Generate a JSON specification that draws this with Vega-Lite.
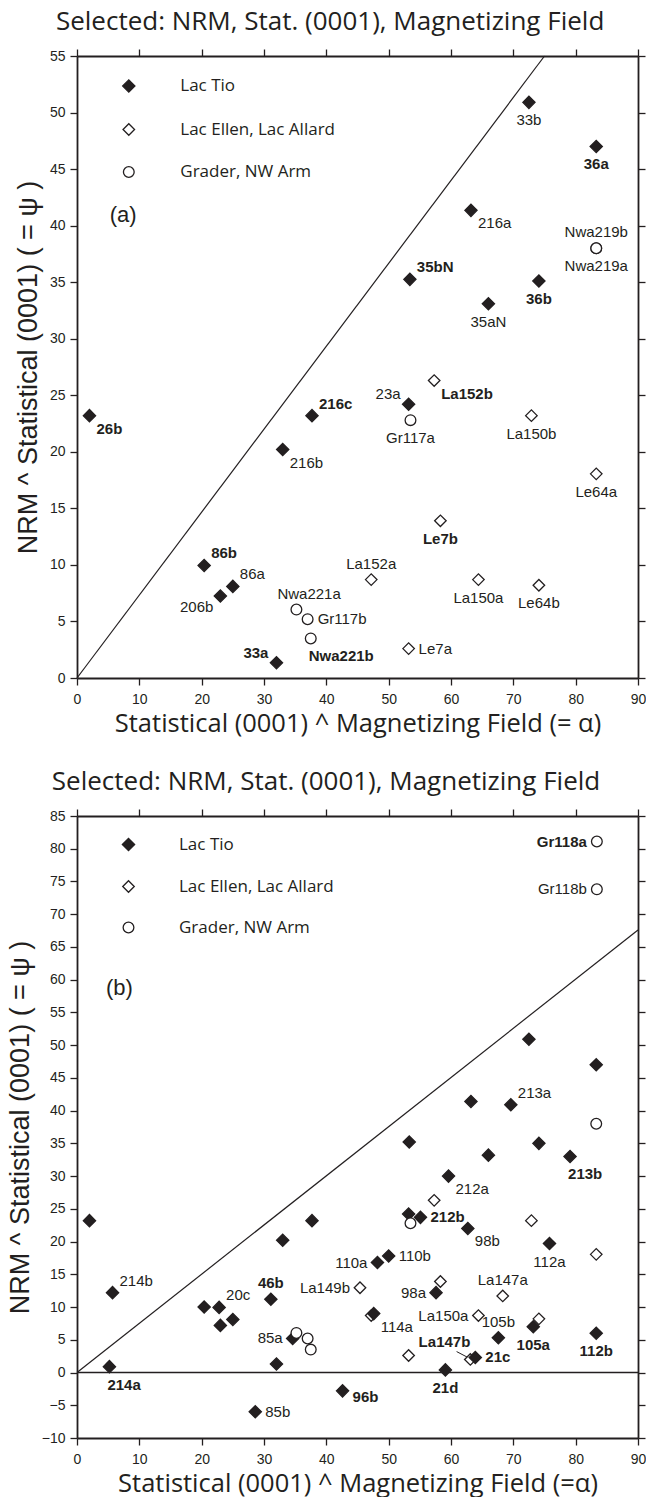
{
  "$schema": "https://vega.github.io/schema/vega-lite/v6.json",
  "padding": {"top": 9, "left": 6, "right": 0, "bottom": 0},
  "background": "white",
  "spacing": 32,
  "datasets": {
    "pa": [
      {"x": 57.3, "y": 26.3, "g": "Lac Ellen, Lac Allard", "label": "La152b", "pos": "br", "bold": true},
      {"x": 72.9, "y": 23.2, "g": "Lac Ellen, Lac Allard", "label": "La150b", "pos": "b", "bold": false},
      {"x": 83.3, "y": 18.05, "g": "Lac Ellen, Lac Allard", "label": "Le64a", "pos": "b", "bold": false},
      {"x": 58.3, "y": 13.9, "g": "Lac Ellen, Lac Allard", "label": "Le7b", "pos": "b", "bold": true},
      {"x": 47.2, "y": 8.7, "g": "Lac Ellen, Lac Allard", "label": "La152a", "pos": "a", "bold": false},
      {"x": 64.4, "y": 8.7, "g": "Lac Ellen, Lac Allard", "label": "La150a", "pos": "b", "bold": false},
      {"x": 74.1, "y": 8.2, "g": "Lac Ellen, Lac Allard", "label": "Le64b", "pos": "b", "bold": false},
      {"x": 53.2, "y": 2.6, "g": "Lac Ellen, Lac Allard", "label": "Le7a", "pos": "r", "bold": false},
      {"x": 72.5, "y": 50.9, "g": "Lac Tio", "label": "33b", "pos": "b", "bold": false},
      {"x": 83.3, "y": 47.0, "g": "Lac Tio", "label": "36a", "pos": "b", "bold": true},
      {"x": 63.2, "y": 41.35, "g": "Lac Tio", "label": "216a", "pos": "br", "bold": false},
      {"x": 53.4, "y": 35.25, "g": "Lac Tio", "label": "35bN", "pos": "ar", "bold": true},
      {"x": 74.1, "y": 35.1, "g": "Lac Tio", "label": "36b", "pos": "b", "bold": true},
      {"x": 66.0, "y": 33.1, "g": "Lac Tio", "label": "35aN", "pos": "b", "bold": false},
      {"x": 53.2, "y": 24.2, "g": "Lac Tio", "label": "23a", "pos": "al", "bold": false},
      {"x": 37.7, "y": 23.2, "g": "Lac Tio", "label": "216c", "pos": "ar", "bold": true},
      {"x": 2.0, "y": 23.2, "g": "Lac Tio", "label": "26b", "pos": "br", "bold": true},
      {"x": 33.0, "y": 20.2, "g": "Lac Tio", "label": "216b", "pos": "br", "bold": false},
      {"x": 20.4, "y": 9.95, "g": "Lac Tio", "label": "86b", "pos": "ar", "bold": true},
      {"x": 25.0, "y": 8.1, "g": "Lac Tio", "label": "86a", "pos": "ar", "bold": false},
      {"x": 23.0, "y": 7.25, "g": "Lac Tio", "label": "206b", "pos": "bl", "bold": false},
      {"x": 32.0, "y": 1.35, "g": "Lac Tio", "label": "33a", "pos": "al", "bold": true},
      {"x": 53.5, "y": 22.8, "g": "Grader, NW Arm", "label": "Gr117a", "pos": "b", "bold": false},
      {"x": 83.3, "y": 38.0, "g": "Grader, NW Arm", "label": "Nwa219b", "pos": "a", "bold": false},
      {"x": 83.3, "y": 38.0, "g": "Grader, NW Arm", "label": "Nwa219a", "pos": "b", "bold": false},
      {"x": 35.2, "y": 6.05, "g": "Grader, NW Arm", "label": "Nwa221a", "pos": "aL", "bold": false},
      {"x": 37.0, "y": 5.2, "g": "Grader, NW Arm", "label": "Gr117b", "pos": "r", "bold": false},
      {"x": 37.5, "y": 3.5, "g": "Grader, NW Arm", "label": "Nwa221b", "pos": "bL", "bold": true}
    ],
    "pb": [
      {"x": 57.3, "y": 26.3, "g": "Lac Ellen, Lac Allard", "label": "", "pos": "", "bold": false},
      {"x": 72.9, "y": 23.2, "g": "Lac Ellen, Lac Allard", "label": "", "pos": "", "bold": false},
      {"x": 83.3, "y": 18.05, "g": "Lac Ellen, Lac Allard", "label": "", "pos": "", "bold": false},
      {"x": 58.3, "y": 13.9, "g": "Lac Ellen, Lac Allard", "label": "", "pos": "", "bold": false},
      {"x": 47.2, "y": 8.7, "g": "Lac Ellen, Lac Allard", "label": "", "pos": "", "bold": false},
      {"x": 64.4, "y": 8.7, "g": "Lac Ellen, Lac Allard", "label": "La150a", "pos": "l", "bold": false},
      {"x": 74.1, "y": 8.2, "g": "Lac Ellen, Lac Allard", "label": "", "pos": "", "bold": false},
      {"x": 53.2, "y": 2.6, "g": "Lac Ellen, Lac Allard", "label": "", "pos": "", "bold": false},
      {"x": 45.4, "y": 12.95, "g": "Lac Ellen, Lac Allard", "label": "La149b", "pos": "l", "bold": false},
      {"x": 68.3, "y": 11.7, "g": "Lac Ellen, Lac Allard", "label": "La147a", "pos": "a", "bold": false},
      {"x": 63.1, "y": 2.0, "g": "Lac Ellen, Lac Allard", "label": "La147b", "pos": "aE", "bold": true},
      {"x": 72.5, "y": 50.9, "g": "Lac Tio", "label": "", "pos": "", "bold": false},
      {"x": 83.3, "y": 47.0, "g": "Lac Tio", "label": "", "pos": "", "bold": false},
      {"x": 63.2, "y": 41.4, "g": "Lac Tio", "label": "", "pos": "", "bold": false},
      {"x": 69.6, "y": 40.9, "g": "Lac Tio", "label": "213a", "pos": "ar", "bold": false},
      {"x": 53.3, "y": 35.2, "g": "Lac Tio", "label": "", "pos": "", "bold": false},
      {"x": 74.1, "y": 35.0, "g": "Lac Tio", "label": "", "pos": "", "bold": false},
      {"x": 66.0, "y": 33.2, "g": "Lac Tio", "label": "", "pos": "", "bold": false},
      {"x": 79.1, "y": 33.0, "g": "Lac Tio", "label": "213b", "pos": "bL", "bold": true},
      {"x": 59.6, "y": 30.0, "g": "Lac Tio", "label": "212a", "pos": "br", "bold": false},
      {"x": 53.2, "y": 24.2, "g": "Lac Tio", "label": "", "pos": "", "bold": false},
      {"x": 55.1, "y": 23.7, "g": "Lac Tio", "label": "212b", "pos": "r", "bold": true},
      {"x": 62.7, "y": 22.0, "g": "Lac Tio", "label": "98b", "pos": "br", "bold": false},
      {"x": 75.8, "y": 19.7, "g": "Lac Tio", "label": "112a", "pos": "b", "bold": false},
      {"x": 48.2, "y": 16.8, "g": "Lac Tio", "label": "110a", "pos": "l", "bold": false},
      {"x": 50.0, "y": 17.8, "g": "Lac Tio", "label": "110b", "pos": "r", "bold": false},
      {"x": 57.6, "y": 12.2, "g": "Lac Tio", "label": "98a", "pos": "l", "bold": false},
      {"x": 47.6, "y": 9.0, "g": "Lac Tio", "label": "114a", "pos": "br", "bold": false},
      {"x": 73.2, "y": 7.0, "g": "Lac Tio", "label": "105a", "pos": "b", "bold": true},
      {"x": 67.6, "y": 5.3, "g": "Lac Tio", "label": "105b", "pos": "a", "bold": false},
      {"x": 83.3, "y": 6.0, "g": "Lac Tio", "label": "112b", "pos": "b", "bold": true},
      {"x": 63.9, "y": 2.3, "g": "Lac Tio", "label": "21c", "pos": "r", "bold": true},
      {"x": 59.1, "y": 0.4, "g": "Lac Tio", "label": "21d", "pos": "b", "bold": true},
      {"x": 42.6, "y": -2.8, "g": "Lac Tio", "label": "96b", "pos": "rb", "bold": true},
      {"x": 2.0, "y": 23.2, "g": "Lac Tio", "label": "", "pos": "", "bold": false},
      {"x": 37.7, "y": 23.2, "g": "Lac Tio", "label": "", "pos": "", "bold": false},
      {"x": 33.0, "y": 20.2, "g": "Lac Tio", "label": "", "pos": "", "bold": false},
      {"x": 5.7, "y": 12.2, "g": "Lac Tio", "label": "214b", "pos": "ar", "bold": false},
      {"x": 31.1, "y": 11.2, "g": "Lac Tio", "label": "46b", "pos": "a", "bold": true},
      {"x": 20.4, "y": 10.0, "g": "Lac Tio", "label": "", "pos": "", "bold": false},
      {"x": 22.8, "y": 9.95, "g": "Lac Tio", "label": "20c", "pos": "ar", "bold": false},
      {"x": 23.0, "y": 7.2, "g": "Lac Tio", "label": "", "pos": "", "bold": false},
      {"x": 25.0, "y": 8.1, "g": "Lac Tio", "label": "", "pos": "", "bold": false},
      {"x": 34.6, "y": 5.2, "g": "Lac Tio", "label": "85a", "pos": "l", "bold": false},
      {"x": 32.0, "y": 1.3, "g": "Lac Tio", "label": "", "pos": "", "bold": false},
      {"x": 5.2, "y": 0.9, "g": "Lac Tio", "label": "214a", "pos": "bL", "bold": true},
      {"x": 28.6, "y": -6.0, "g": "Lac Tio", "label": "85b", "pos": "r", "bold": false},
      {"x": 53.5, "y": 22.8, "g": "Grader, NW Arm", "label": "", "pos": "", "bold": false},
      {"x": 83.3, "y": 38.0, "g": "Grader, NW Arm", "label": "", "pos": "", "bold": false},
      {"x": 35.2, "y": 6.05, "g": "Grader, NW Arm", "label": "", "pos": "", "bold": false},
      {"x": 37.0, "y": 5.2, "g": "Grader, NW Arm", "label": "", "pos": "", "bold": false},
      {"x": 37.5, "y": 3.5, "g": "Grader, NW Arm", "label": "", "pos": "", "bold": false},
      {"x": 83.4, "y": 81.1, "g": "Grader, NW Arm", "label": "Gr118a", "pos": "l", "bold": true},
      {"x": 83.4, "y": 73.8, "g": "Grader, NW Arm", "label": "Gr118b", "pos": "l", "bold": false}
    ]
  },
  "resolve": {
    "scale": {"x": "independent", "y": "independent", "shape": "independent", "fill": "independent", "size": "independent"},
    "legend": {"shape": "independent", "fill": "independent", "size": "independent"}
  },
  "vconcat": [
    {
      "width": 561,
      "height": 622,
      "title": {"text": "Selected: NRM, Stat. (0001), Magnetizing Field", "font": "Open Sans", "fontSize": 26, "fontWeight": "normal", "color": "#231f20", "baseline": "alphabetic", "offset": -8, "anchor": "middle", "frame": "bounds"},
      "data": {"name": "pa"},
      "resolve": {"axis": {"x": "independent", "y": "independent"}},
      "layer": [
        {
          "data": {"values": [{}]},
          "mark": {"type": "rule", "color": "#231f20", "strokeWidth": 1.2},
          "encoding": {
            "x": {"datum": 0, "axis": null},
            "y": {"datum": 0, "axis": null},
            "x2": {"datum": 75},
            "y2": {"datum": 55}
          }
        },
        {
          "mark": {"type": "point", "filled": true, "stroke": "#231f20", "strokeWidth": 1.3, "opacity": 1},
          "encoding": {
            "x": {"field": "x", "type": "quantitative", "scale": {"domain": [0, 90], "nice": false, "zero": false},
                  "axis": {"orient": "bottom", "values": [0, 10, 20, 30, 40, 50, 60, 70, 80, 90], "title": "Statistical (0001) ^ Magnetizing Field (= α)"}},
            "y": {"field": "y", "type": "quantitative", "scale": {"domain": [0, 55], "nice": false, "zero": false},
                  "axis": {"orient": "left", "values": [0, 5, 10, 15, 20, 25, 30, 35, 40, 45, 50, 55], "title": "NRM ^ Statistical (0001) ( = ψ )"}},
            "shape": {"field": "g", "type": "nominal", "scale": {"domain": ["Lac Tio", "Lac Ellen, Lac Allard", "Grader, NW Arm"], "range": ["diamond", "diamond", "circle"]},
                      "legend": {"orient": "none", "legendX": 43.3, "legendY": 21.5, "title": null, "padding": 0, "rowPadding": 24.5, "labelOffset": 43, "labelFont": "Open Sans", "labelFontSize": 17, "labelColor": "#231f20", "symbolStrokeColor": "#231f20", "symbolStrokeWidth": 1.3, "symbolOpacity": 1}},
            "fill": {"field": "g", "type": "nominal", "scale": {"domain": ["Lac Tio", "Lac Ellen, Lac Allard", "Grader, NW Arm"], "range": ["#231f20", "#ffffff", "#ffffff"]}},
            "size": {"field": "g", "type": "nominal", "scale": {"domain": ["Lac Tio", "Lac Ellen, Lac Allard", "Grader, NW Arm"], "range": [150, 115, 80]}}
          }
        },
        {
          "transform": [{"filter": "datum.label != ''"}],
          "mark": {
            "type": "text", "font": "Liberation Sans", "fontSize": 15, "color": "#231f20", "baseline": "middle",
            "fontWeight": {"expr": "datum.bold ? 'bold' : 'normal'"},
            "align": {"expr": "indexof(['r','br','ar','bL','rb','aL'], datum.pos) >= 0 ? 'left' : (indexof(['l','al','bl','aE'], datum.pos) >= 0 ? 'right' : 'center')"},
            "dx": {"expr": "datum.pos == 'r' || datum.pos == 'rb' ? 10 : (datum.pos == 'br' || datum.pos == 'ar' ? 7 : (datum.pos == 'bL' ? -2 : (datum.pos == 'aL' ? -19 : (datum.pos == 'l' ? -10 : (datum.pos == 'al' ? -8 : (datum.pos == 'bl' ? -7 : 0))))))"},
            "dy": {"expr": "datum.pos == 'b' || datum.pos == 'bL' ? 18 : (datum.pos == 'a' || datum.pos == 'aL' ? -16 : (datum.pos == 'aE' ? -17 : (datum.pos == 'br' ? 13 : (datum.pos == 'ar' ? -12 : (datum.pos == 'al' ? -10 : (datum.pos == 'bl' ? 11 : (datum.pos == 'rb' ? 6 : 0)))))))"}
          },
          "encoding": {
            "x": {"field": "x", "type": "quantitative", "axis": {"orient": "top", "labels": false, "title": null, "values": [0, 10, 20, 30, 40, 50, 60, 70, 80, 90]}},
            "y": {"field": "y", "type": "quantitative", "axis": {"orient": "right", "labels": false, "title": null, "values": [0, 5, 10, 15, 20, 25, 30, 35, 40, 45, 50, 55]}},
            "text": {"field": "label"}
          }
        },
        {
          "data": {"values": [{}]},
          "mark": {"type": "text", "font": "Liberation Sans", "fontSize": 22, "color": "#231f20", "align": "center", "baseline": "middle", "text": "(a)"},
          "encoding": {
            "x": {"datum": 7.4, "axis": null},
            "y": {"datum": 40.9, "axis": null}
          }
        }
      ]
    },
    {
      "width": 561,
      "height": 622,
      "title": {"text": "Selected: NRM, Stat. (0001), Magnetizing Field", "font": "Open Sans", "fontSize": 26, "fontWeight": "normal", "color": "#231f20", "baseline": "alphabetic", "offset": -8, "anchor": "middle", "frame": "bounds"},
      "data": {"name": "pb"},
      "resolve": {"axis": {"x": "independent", "y": "independent"}},
      "layer": [
        {
          "data": {"values": [{}]},
          "mark": {"type": "rule", "color": "#231f20", "strokeWidth": 1.2},
          "encoding": {
            "x": {"datum": 0, "axis": null},
            "y": {"datum": 0, "axis": null},
            "x2": {"datum": 90},
            "y2": {"datum": 67.6}
          }
        },
        {
          "data": {"values": [{}]},
          "mark": {"type": "rule", "color": "#231f20", "strokeWidth": 1.5},
          "encoding": {
            "y": {"datum": 0, "axis": null}
          }
        },
        {
          "data": {"values": [{}]},
          "mark": {"type": "rule", "color": "#231f20", "strokeWidth": 1},
          "encoding": {
            "x": {"datum": 60.9, "axis": null},
            "y": {"datum": 3.2, "axis": null},
            "x2": {"datum": 62.7},
            "y2": {"datum": 2.3}
          }
        },
        {
          "mark": {"type": "point", "filled": true, "stroke": "#231f20", "strokeWidth": 1.3, "opacity": 1},
          "encoding": {
            "x": {"field": "x", "type": "quantitative", "scale": {"domain": [0, 90], "nice": false, "zero": false},
                  "axis": {"orient": "bottom", "values": [0, 10, 20, 30, 40, 50, 60, 70, 80, 90], "title": "Statistical (0001) ^ Magnetizing Field (=α)"}},
            "y": {"field": "y", "type": "quantitative", "scale": {"domain": [-10, 85], "nice": false, "zero": false},
                  "axis": {"orient": "left", "values": [-10, -5, 0, 5, 10, 15, 20, 25, 30, 35, 40, 45, 50, 55, 60, 65, 70, 75, 80, 85], "title": "NRM ^ Statistical (0001) ( = ψ )"}},
            "shape": {"field": "g", "type": "nominal", "scale": {"domain": ["Lac Tio", "Lac Ellen, Lac Allard", "Grader, NW Arm"], "range": ["diamond", "diamond", "circle"]},
                      "legend": {"orient": "none", "legendX": 43, "legendY": 20, "title": null, "padding": 0, "rowPadding": 23, "labelOffset": 42, "labelFont": "Open Sans", "labelFontSize": 17, "labelColor": "#231f20", "symbolStrokeColor": "#231f20", "symbolStrokeWidth": 1.3, "symbolOpacity": 1}},
            "fill": {"field": "g", "type": "nominal", "scale": {"domain": ["Lac Tio", "Lac Ellen, Lac Allard", "Grader, NW Arm"], "range": ["#231f20", "#ffffff", "#ffffff"]}},
            "size": {"field": "g", "type": "nominal", "scale": {"domain": ["Lac Tio", "Lac Ellen, Lac Allard", "Grader, NW Arm"], "range": [150, 115, 80]}}
          }
        },
        {
          "transform": [{"filter": "datum.label != ''"}],
          "mark": {
            "type": "text", "font": "Liberation Sans", "fontSize": 15, "color": "#231f20", "baseline": "middle",
            "fontWeight": {"expr": "datum.bold ? 'bold' : 'normal'"},
            "align": {"expr": "indexof(['r','br','ar','bL','rb','aL'], datum.pos) >= 0 ? 'left' : (indexof(['l','al','bl','aE'], datum.pos) >= 0 ? 'right' : 'center')"},
            "dx": {"expr": "datum.pos == 'r' || datum.pos == 'rb' ? 10 : (datum.pos == 'br' || datum.pos == 'ar' ? 7 : (datum.pos == 'bL' ? -2 : (datum.pos == 'aL' ? -19 : (datum.pos == 'l' ? -10 : (datum.pos == 'al' ? -8 : (datum.pos == 'bl' ? -7 : 0))))))"},
            "dy": {"expr": "datum.pos == 'b' || datum.pos == 'bL' ? 18 : (datum.pos == 'a' || datum.pos == 'aL' ? -16 : (datum.pos == 'aE' ? -17 : (datum.pos == 'br' ? 13 : (datum.pos == 'ar' ? -12 : (datum.pos == 'al' ? -10 : (datum.pos == 'bl' ? 11 : (datum.pos == 'rb' ? 6 : 0)))))))"}
          },
          "encoding": {
            "x": {"field": "x", "type": "quantitative", "axis": {"orient": "top", "labels": false, "title": null, "values": [0, 10, 20, 30, 40, 50, 60, 70, 80, 90]}},
            "y": {"field": "y", "type": "quantitative", "axis": {"orient": "right", "labels": false, "title": null, "values": [-10, -5, 0, 5, 10, 15, 20, 25, 30, 35, 40, 45, 50, 55, 60, 65, 70, 75, 80, 85]}},
            "text": {"field": "label"}
          }
        },
        {
          "data": {"values": [{}]},
          "mark": {"type": "text", "font": "Liberation Sans", "fontSize": 22, "color": "#231f20", "align": "center", "baseline": "middle", "text": "(b)"},
          "encoding": {
            "x": {"datum": 6.8, "axis": null},
            "y": {"datum": 58.7, "axis": null}
          }
        }
      ]
    }
  ],
  "config": {
    "view": {"stroke": null},
    "axis": {
      "grid": false,
      "domainColor": "#231f20",
      "domainWidth": 1.8,
      "tickColor": "#231f20",
      "tickWidth": 1.3,
      "tickSize": 7,
      "labelFont": "Liberation Sans",
      "labelFontSize": 14,
      "labelColor": "#231f20",
      "labelPadding": 5,
      "labelFlush": false,
      "labelOverlap": false
    },
    "axisBottom": {"labelPadding": 7, "titleFont": "Open Sans", "titleFontSize": 25.5, "titleFontWeight": "normal", "titleColor": "#231f20", "titlePadding": 5},
    "axisLeft": {"titleFont": "Liberation Sans", "titleFontSize": 27, "titleFontWeight": "normal", "titleColor": "#231f20", "titlePadding": 7}
  }
}
